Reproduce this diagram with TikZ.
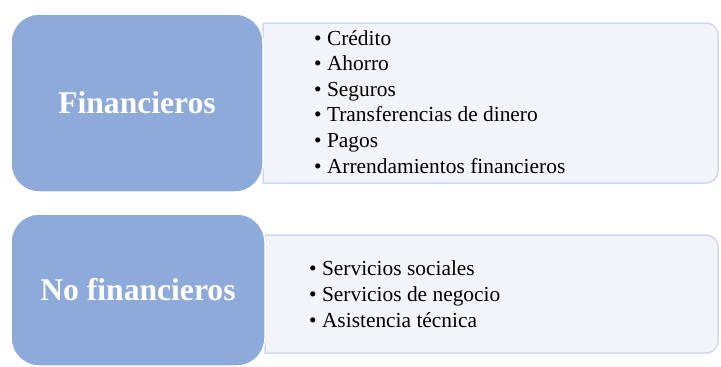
\documentclass[tikz,border=0pt]{standalone}
\usepackage{fontspec}
\setmainfont{Liberation Serif}
\definecolor{catblue}{HTML}{8EAADB}
\definecolor{listfill}{HTML}{F3F4FA}
\definecolor{listline}{HTML}{D2D9EE}
\tikzset{
  catbox/.style={draw=white, line width=1.5pt, fill=catblue, rounded corners=28pt,
    text=white, font=\fontsize{31.6}{36}\selectfont\bfseries, inner sep=0pt},
  listbox/.style={draw=listline, fill=listfill, line width=1.5pt},
  item/.style={anchor=base west, inner sep=0pt, font=\fontsize{21.4}{25}\selectfont}
}
\begin{document}
\begin{tikzpicture}[x=1pt,y=-1pt]
\useasboundingbox (0,0) rectangle (721,367);
% list panels
\path[listbox] (263,23) [rounded corners=12pt] -- (718,23) -- (718,183) [sharp corners] -- (263,183) -- cycle;
\path[listbox] (265,235) [rounded corners=12pt] -- (718,235) -- (718,353) [sharp corners] -- (265,353) -- cycle;
% category boxes
\node[catbox, minimum width=252pt, minimum height=178pt] (fin) at (137,103) {Financieros};
\node[catbox, minimum width=254pt, minimum height=152pt] (nofin) at (138,290) {No financieros};
% items
\foreach \t [count=\i] in {Crédito, Ahorro, Seguros, Transferencias de dinero, Pagos, Arrendamientos financieros}
  \node[item] (fi\i) at (314,{45+25.6*(\i-1)}) {• \t};
\foreach \t [count=\i] in {Servicios sociales, Servicios de negocio, Asistencia técnica}
  \node[item] (ni\i) at (309,{275+26*(\i-1)}) {• \t};
\end{tikzpicture}
\end{document}
